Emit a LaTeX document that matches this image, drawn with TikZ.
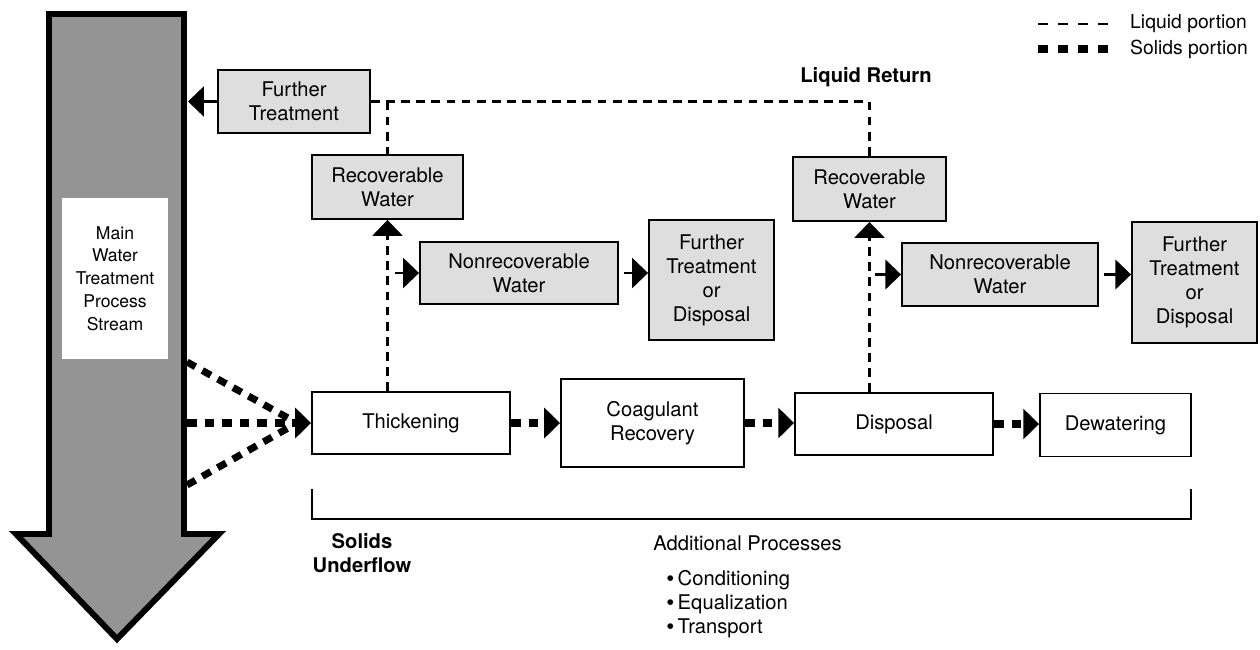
\documentclass[tikz,border=0pt]{standalone}
\usepackage{fontspec}
\setmainfont{TeX Gyre Heros}
\usetikzlibrary{positioning,arrows.meta}
\newcommand{\bigdot}{\raisebox{-0.5pt}{\fontsize{13}{13.6}\selectfont•}\,}

\begin{document}
\begin{tikzpicture}[x=0.02cm,y=-0.02cm,>={Triangle[length=9pt,width=17pt]},
  box/.style={draw,line width=1.1pt,fill=white,align=center,inner sep=1pt,font=\fontsize{11.5}{13.6}\selectfont},
  grey box/.style={box,fill=black!13},
  liquid/.style={line width=1.4pt,dash pattern=on 5pt off 3.6pt},
  solids/.style={line width=4pt,dash pattern=on 5.5pt off 4.5pt},
  stub/.style={line width=1.2pt,->}]
\useasboundingbox (0,0) rectangle (1260,649);

% main process stream
\draw[line width=3.4pt,fill=black!42] (49,14) -- (184,14) -- (184,534) -- (219,534) -- (117,639) -- (16,534) -- (49,534) -- cycle;
\node[fill=white,minimum width=2.12cm,minimum height=3.22cm,align=center,font=\fontsize{10}{13}\selectfont] (main) at (115,278.5) {Main\\Water\\Treatment\\Process\\Stream};

% legend
\coordinate (lgA) at (1038,24);
\coordinate (lgB) at (1038,49);
\node[anchor=west,font=\fontsize{11}{13}\selectfont] (liq) at (1124,24) {Liquid portion};
\node[anchor=west,font=\fontsize{11}{13}\selectfont] (sol) at (1124,49) {Solids portion};
\draw[line width=1.4pt,dash pattern=on 5.7pt off 5.7pt] (lgA) -- ([xshift=-8pt]liq.west);
\draw[line width=4.5pt,dash pattern=on 5.7pt off 5.7pt] (lgB) -- ([xshift=-8pt]sol.west);

\node[font=\bfseries\fontsize{11.5}{13.6}\selectfont] (ret) at (866,77) {Liquid Return};

% liquid side
\node[grey box,minimum width=3.04cm,minimum height=1.26cm] (ftop) at (294,101.5) {Further\\Treatment};
\node[grey box,minimum width=3.02cm,minimum height=1.28cm] (rwA) at (387.5,187) {Recoverable\\Water};
\node[grey box,minimum width=3.96cm,minimum height=1.24cm] (nwA) at (519,273) {Nonrecoverable\\Water};
\node[grey box,minimum width=2.5cm,minimum height=2.4cm] (fdA) at (711.5,280) {Further\\Treatment\\or\\Disposal};
\node[grey box,minimum width=3.06cm,minimum height=1.28cm] (rwB) at (869.5,189) {Recoverable\\Water};
\node[grey box,minimum width=3.92cm,minimum height=1.26cm] (nwB) at (1000,274.5) {Nonrecoverable\\Water};
\node[grey box,minimum width=2.5cm,minimum height=2.42cm] (fdB) at (1194.5,282.5) {Further\\Treatment\\or\\Disposal};

% solids side
\node[box,minimum width=3.96cm,minimum height=1.24cm] (thick) at (411,423) {Thickening};
\node[box,minimum width=3.66cm,minimum height=1.76cm] (coag) at (652.5,423) {Coagulant\\Recovery};
\node[box,minimum width=3.96cm,minimum height=1.24cm] (disp) at (894,424) {Disposal};
\node[box,minimum width=3.02cm,minimum height=1.26cm] (dew) at (1115.5,425) {Dewatering};

% liquid return
\draw[liquid] (ftop.east) -- (ftop.east -| rwB) -- (rwB.north);
\draw[liquid] (ftop.east -| rwA) -- (rwA.north);
\draw[liquid,->] (rwA.south |- thick.north) -- (rwA.south);
\draw[liquid,->] (rwB.south |- disp.north) -- (rwB.south);

\coordinate (ftin) at (188,101.5);
\coordinate (tapA) at (395,273);
\coordinate (tapB) at (875,274.5);
\draw[stub] (ftop.west) -- (ftin);
\draw[stub] (tapA) -- (nwA.west);
\draw[stub,shorten <=3pt] (nwA.east) -- (nwA.east -| fdA.west);
\draw[stub] (tapB) -- (nwB.west);
\draw[stub,shorten <=3pt] (nwB.east) -- (nwB.east -| fdB.west);

% solids underflow
\coordinate (sA) at (187,362);
\coordinate (sB) at (187,423);
\coordinate (sC) at (187,485);
\coordinate (meet) at (297,423);
\draw[solids] (sA) -- (meet);
\draw[solids] (sC) -- (meet);
\draw[solids,->] (sB) -- (thick.west);
\draw[solids,->] (thick.east) -- (coag.west);
\draw[solids,->] (coag.east) -- (coag.east -| disp.west);
\draw[solids,->] (disp.east) -- (disp.east -| dew.west);

% additional processes
\coordinate (brL) at (312,489);
\coordinate (brR) at (1191,489);
\draw[line width=1.1pt] (brL) -- ++(0,30) -| (brR);
\node[font=\bfseries\fontsize{11.5}{13.6}\selectfont,align=center] (under) at (362,553) {Solids\\Underflow};
\node[anchor=west,inner sep=0pt,font=\fontsize{11.5}{13.6}\selectfont] (addp) at (653,543) {Additional Processes};
\node[anchor=west,inner sep=0pt,align=left,font=\fontsize{11.5}{13.6}\selectfont] (list) at (666,604) {\bigdot Conditioning\\\bigdot Equalization\\\bigdot Transport};
\end{tikzpicture}
\end{document}
